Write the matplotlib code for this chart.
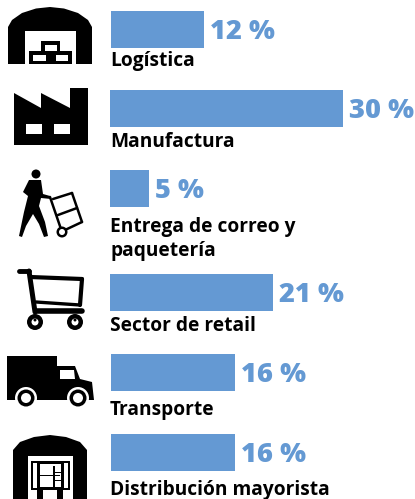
import matplotlib
matplotlib.use("Agg")
import matplotlib.pyplot as plt
from matplotlib.patches import Polygon, Rectangle, Circle

categories = ["Logística", "Manufactura", "Entrega de correo y\npaquetería",
              "Sector de retail", "Transporte", "Distribución mayorista"]
shares = [12, 30, 5, 21, 16, 16]

W, H = 415, 499
BLUE = "#6499d3"
FONT = "Open Sans"
bar_tops = [11, 90, 170, 274, 354, 434]
bar_lefts = [111, 110, 110, 110, 111, 111]
label_bases = [66, 147, 256, 331, 415, 495]
PX_PER_PCT = 7.75

fig = plt.figure(figsize=(W / 100, H / 100), dpi=100)
ax = fig.add_axes([0, 0, 1, 1])
ax.set_xlim(0, W)
ax.set_ylim(H, 0)
ax.axis("off")

for cat, val, top, left, lb in zip(categories, shares, bar_tops, bar_lefts, label_bases):
    w = val * PX_PER_PCT
    ax.barh(top + 18.5, w, height=37, left=left, color=BLUE, linewidth=0)
    ax.text(left + w + 6, top + 27.5, f"{val} %", color=BLUE, fontsize=19.6, fontweight=800,
            family=FONT, va="baseline", ha="left")
    ax.text(110, lb, cat, color="black", fontsize=13.8, fontweight="bold", family=FONT,
            va="baseline", ha="left", linespacing=1.25)

def poly(pts, c="black", z=3):
    ax.add_patch(Polygon(pts, closed=True, fc=c, ec="none", zorder=z))
def rect(x0, y0, x1, y1, c="black", z=3):
    ax.add_patch(Rectangle((x0, y0), x1 - x0, y1 - y0, fc=c, ec="none", zorder=z))
def circ(x, y, r, c="black", z=3):
    ax.add_patch(Circle((x, y), r, fc=c, ec="none", zorder=z))
def line(xs, ys, lw=2, c="black", z=3):
    ax.plot(xs, ys, color=c, lw=lw, solid_capstyle="round", zorder=z)

# warehouse
poly([(8, 64), (8, 27), (12, 20), (22, 13), (36, 8.5), (50, 7), (64, 8.5), (78, 13), (88, 20), (92, 27), (92, 64),
      (76, 64), (76, 31), (25, 31), (25, 64)])
rect(41, 41, 60, 52); rect(45, 45, 57, 51, "white", 4)
rect(29, 51, 51, 64); rect(33, 55, 46, 61, "white", 4)
rect(51, 51, 72, 64); rect(56, 55, 68, 61, "white", 4)

# factory
poly([(14, 93), (41, 108), (41, 93), (70, 108), (70, 88), (88, 88), (88, 145), (14, 145)])
rect(26, 124, 42, 134, "white", 4); rect(54, 124, 70, 134, "white", 4)

# person with hand truck
circ(36, 174, 4.5)
poly([(29, 180), (41, 180), (43, 194), (50, 196), (51, 199), (41, 198), (39, 206), (45, 222), (48, 236), (44, 237),
      (39, 224), (33, 214), (26, 226), (22, 237), (19, 236), (24, 212), (28, 196), (23, 192)])
line([50, 62], [197, 232], 1.8)
line([53, 72], [199, 193], 1.8)
line([72, 82], [193, 222], 1.8)
line([82, 65], [222, 230], 1.8)
line([58, 77], [215, 208], 1.8)
circ(62, 232, 5.5); circ(62, 232, 3, "white", 4)

# cart
line([19, 29], [271, 271], 3.5)
line([29, 35], [271, 312], 3.6)
line([30, 82], [277, 279], 3)
line([82, 80], [279, 305], 3)
line([80, 36], [305, 302], 2.4)
line([36, 82], [311, 311], 4)
for cx in (35, 75):
    circ(cx, 322, 8); circ(cx, 322, 3.5, "white", 4); circ(cx, 320, 1.5, "black", 5)

# truck
poly([(7, 356), (57, 356), (57, 366), (75, 366), (80, 379), (92, 382), (94, 400), (7, 400)])
poly([(60, 370), (74, 370), (75, 379), (60, 379)], "white", 4)
for cx in (26, 78):
    circ(cx, 398, 11, "white", 4); circ(cx, 398, 8.5, "black", 6); circ(cx, 398, 5, "white", 7)

# distribution warehouse
poly([(13, 499), (13, 450), (20, 442), (34, 437), (50, 435), (66, 437), (80, 442), (87, 450), (87, 499),
      (73, 499), (73, 456), (28, 456), (28, 499)])
rect(31, 461, 70, 490)
rect(33, 463, 37, 488, "white", 4); rect(64, 463, 68, 488, "white", 4)
rect(40, 464, 61, 487, "white", 4)
rect(53, 466, 54.5, 487, "black", 5); rect(40, 475, 60, 476, "black", 5); rect(54, 472, 61, 473, "black", 5); rect(54, 480, 61, 481, "black", 5)
rect(37, 490, 43, 499); rect(57, 490, 63, 499)

fig.savefig("out.png", dpi=100)
